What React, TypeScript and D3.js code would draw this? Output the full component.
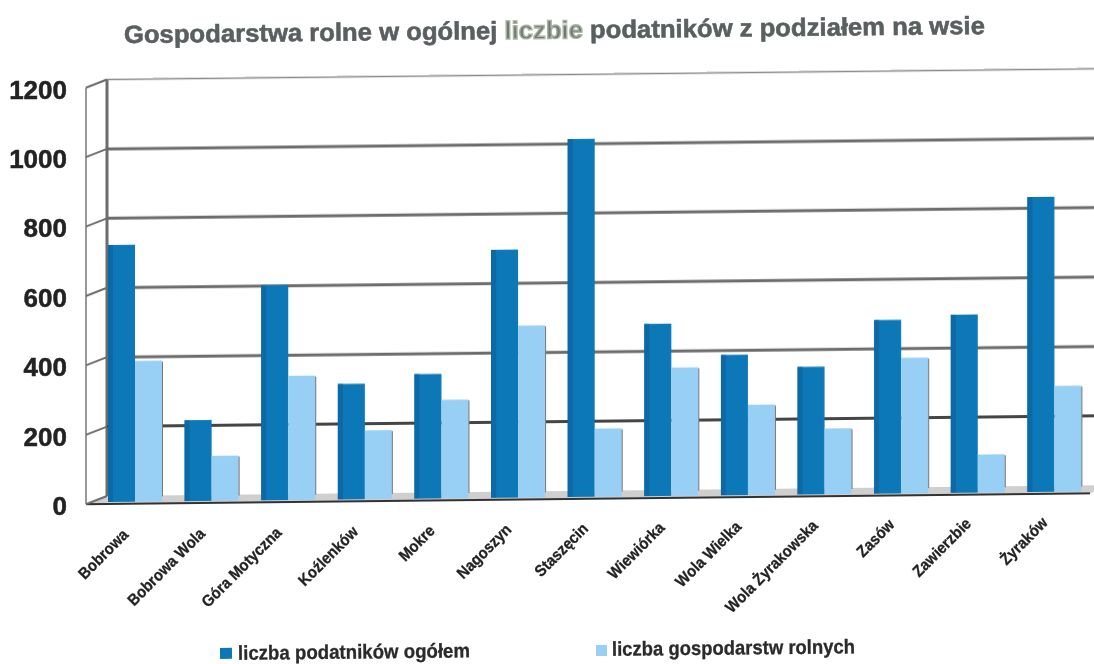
import React from "react";
import * as d3 from "d3";

const categories = ["Bobrowa","Bobrowa Wola","Góra Motyczna","Koźlenków","Mokre","Nagoszyn","Staszęcin","Wiewiórka","Wola Wielka","Wola Żyrakowska","Zasów","Zawierzbie","Żyraków"];
const taxpayers = [743,234,622,334,360,717,1035,498,406,369,502,515,853];
const farms = [407,130,359,199,285,497,197,371,261,190,392,110,306];
const ticks = [0,200,400,600,800,1000,1200];
const seriesNames = ["liczba podatników ogółem","liczba gospodarstw rolnych"];
const titleParts = ["Gospodarstwa rolne w ogólnej ","liczbie"," podatników z podziałem na wsie"];

const DARK = "#0a78b8";
const DARKER = "#0868a6";
const LIGHT = "#98cff5";
const GRID = "#6c6c6c";

export default function App() {
  const wallY = d3.scaleLinear().domain([0,1200]).range([496,79.5]);
  const frontY = d3.scaleLinear().domain([0,1200]).range([504,87.5]);
  const barY = d3.scaleLinear().domain([0,1200]).range([502,87]);
  const x = d3.scaleBand<string>().domain(categories).range([97,1093]).paddingInner(0).paddingOuter(0);
  const step = x.step();
  const bw = 27;
  const lw = 27;
  const shear = "translate(107,497) skewY(-0.62) translate(-107,-497)";
  return (
    <svg width={1094} height={664} style={{position:"absolute",left:0,top:0,background:"#fff"}} fontFamily="Liberation Sans" fontWeight="bold">
      <defs>
        <filter id="soft" x="-5%" y="-5%" width="110%" height="110%"><feGaussianBlur stdDeviation="0.6"/></filter>
      </defs>
      <g filter="url(#soft)">
        <text transform="rotate(-0.6 124 43)" x={124} y={43} fontSize={25} fill="#5a5e60" stroke="#5a5e60" strokeWidth={0.6} textLength={861} lengthAdjust="spacingAndGlyphs">
          <tspan>{titleParts[0]}</tspan><tspan fill="#6f7a70" stroke="#aab4a6" strokeWidth={1.4}>{titleParts[1]}</tspan><tspan>{titleParts[2]}</tspan>
        </text>
        <g transform={shear}>
          <polygon points={`86,${frontY(0)} 107,${wallY(0)} 1110,${wallY(0)} 1090,${frontY(0)}`} fill="#cfcfcf"/>
          <line x1={86} x2={1090} y1={frontY(0)} y2={frontY(0)} stroke="#333" strokeWidth={2}/>
          <line x1={86} x2={86} y1={frontY(0)} y2={frontY(1200)} stroke="#777" strokeWidth={1.5}/>
          <line x1={107} x2={107} y1={wallY(0)} y2={wallY(1200)} stroke={GRID} strokeWidth={3}/>
          {ticks.map(t => (
            <g key={t}>
              <line x1={107} x2={1110} y1={wallY(t)} y2={wallY(t)} stroke={t===1200?"#8a8a8a":t>=400?GRID:"#444"} strokeWidth={t===1200?1.5:t===0?0:3}/>
              <line x1={86} x2={107} y1={frontY(t)} y2={wallY(t)} stroke={GRID} strokeWidth={2}/>
            </g>
          ))}
          {categories.map((c,i) => {
            const x0 = (x(c) as number) + 11;
            return (
              <g key={c}>
                <rect x={x0+bw+lw-1} y={barY(farms[i])+1} width={2} height={barY(0)-barY(farms[i])-6} fill="#777"/>
                <rect x={x0} y={barY(taxpayers[i])} width={bw} height={barY(0)-barY(taxpayers[i])} fill={DARK}/>
                <rect x={x0} y={barY(taxpayers[i])} width={5} height={barY(0)-barY(taxpayers[i])} fill={DARKER}/>
                <rect x={x0+bw} y={barY(farms[i])} width={lw} height={barY(0)-barY(farms[i])} fill={LIGHT}/>
              </g>
            );
          })}
        </g>
        {ticks.map(t => (
          <text key={t} x={67} y={frontY(t)+11} textAnchor="end" fontSize={26} fill="#222" stroke="#222" strokeWidth={0.5}>{t}</text>
        ))}
        {categories.map((c) => {
          const cx = (x(c) as number) + step/2 - 6;
          const cy = 536 - (cx-107)*0.0131;
          return <text key={c} transform={`translate(${cx},${cy}) rotate(-45) scale(0.92,1)`} textAnchor="end" fontSize={16} fill="#222" stroke="#222" strokeWidth={0.3}>{c}</text>;
        })}
        <g transform="rotate(-0.6 220 653)">
          <rect x={220} y={648} width={12} height={11} fill={DARK}/>
          <text x={238} y={660} fontSize={20} fill="#2a2a2a" stroke="#2a2a2a" strokeWidth={0.3} textLength={232} lengthAdjust="spacingAndGlyphs">{seriesNames[0]}</text>
        </g>
        <g transform="rotate(-0.6 596 650)">
          <rect x={596} y={645} width={11} height={11} fill={LIGHT}/>
          <text x={612} y={656} fontSize={20} fill="#2a2a2a" stroke="#2a2a2a" strokeWidth={0.3} textLength={243} lengthAdjust="spacingAndGlyphs">{seriesNames[1]}</text>
        </g>
      </g>
    </svg>
  );
}
